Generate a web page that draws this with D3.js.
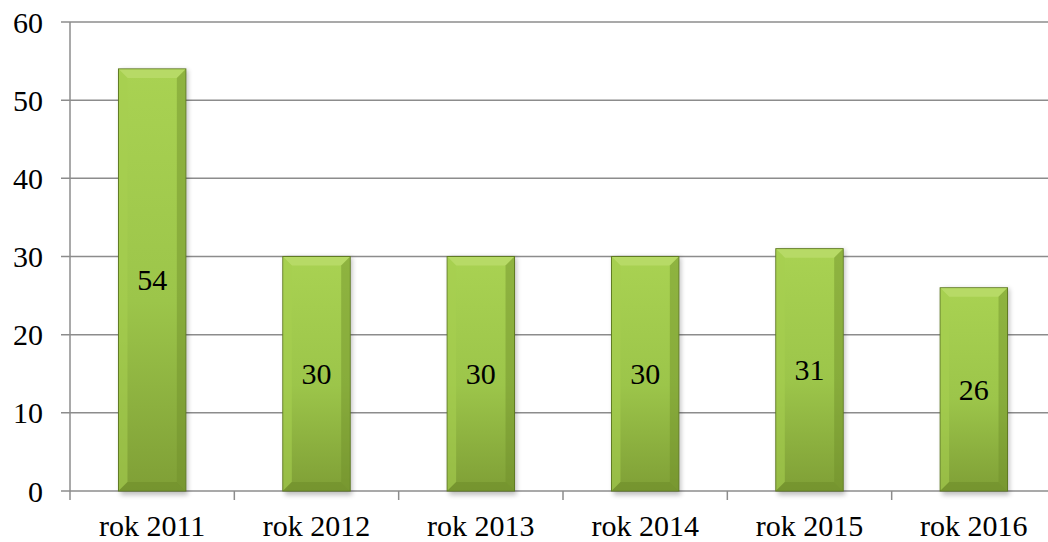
<!DOCTYPE html>
<html>
<head>
<meta charset="utf-8">
<script src="https://cdn.jsdelivr.net/npm/d3@7"></script>
<style>
  html, body { margin: 0; padding: 0; background: #fff; }
  svg { display: block; }
  text { font-family: "Liberation Serif", "Times New Roman", serif; fill: #000; }
</style>
</head>
<body>
<script>
var categories = ["rok 2011", "rok 2012", "rok 2013", "rok 2014", "rok 2015", "rok 2016"];
var values = [54, 30, 30, 30, 31, 26];
var yTicks = [0, 10, 20, 30, 40, 50, 60];

var width = 1048, height = 542;
var plotLeft = 70, plotRight = 1056, plotTop = 22, plotBottom = 491;
var fs = 30;

var svg = d3.select("body").append("svg")
    .attr("width", width)
    .attr("height", height);

var defs = svg.append("defs");

// main face gradient, light at top and darker at the bottom
var g1 = defs.append("linearGradient").attr("id", "face")
    .attr("x1", 0).attr("y1", 0).attr("x2", 0).attr("y2", 1);
g1.append("stop").attr("offset", "0%").attr("stop-color", "#a9d252");
g1.append("stop").attr("offset", "55%").attr("stop-color", "#9cc54a");
g1.append("stop").attr("offset", "100%").attr("stop-color", "#7f9f36");

var blur = defs.append("filter").attr("id", "shadow")
    .attr("x", "-20%").attr("y", "-5%").attr("width", "140%").attr("height", "115%");
blur.append("feGaussianBlur").attr("stdDeviation", 2.5);

var x = d3.scaleBand()
    .domain(categories)
    .range([plotLeft, plotRight])
    .paddingInner(0.59)
    .paddingOuter(0.295);

var y = d3.scaleLinear()
    .domain([0, 60])
    .range([plotBottom, plotTop]);

// gridlines
svg.append("g")
    .selectAll("line")
    .data(yTicks)
    .enter().append("line")
    .attr("x1", plotLeft - 9)
    .attr("x2", width)
    .attr("y1", function (d) { return y(d); })
    .attr("y2", function (d) { return y(d); })
    .attr("stroke", "#8c8c8c")
    .attr("stroke-width", 1.5);

// y axis line
svg.append("line")
    .attr("x1", plotLeft).attr("x2", plotLeft)
    .attr("y1", plotTop).attr("y2", plotBottom)
    .attr("stroke", "#8c8c8c")
    .attr("stroke-width", 1.5);

// y labels
svg.append("g")
    .selectAll("text")
    .data(yTicks)
    .enter().append("text")
    .attr("x", plotLeft - 27)
    .attr("y", function (d) { return y(d); })
    .attr("dy", "0.35em")
    .attr("text-anchor", "end")
    .attr("font-size", fs)
    .text(function (d) { return d; });

// x tick marks at band edges
var edges = categories.map(function (c) { return x(c) - x.step() * x.paddingOuter(); });
edges.push(plotRight);
svg.append("g")
    .selectAll("line")
    .data(edges)
    .enter().append("line")
    .attr("x1", function (d) { return d; })
    .attr("x2", function (d) { return d; })
    .attr("y1", plotBottom)
    .attr("y2", plotBottom + 9)
    .attr("stroke", "#8c8c8c")
    .attr("stroke-width", 1.5);

// x labels
svg.append("g")
    .selectAll("text")
    .data(categories)
    .enter().append("text")
    .attr("x", function (d) { return x(d) + x.bandwidth() / 2; })
    .attr("y", 536)
    .attr("text-anchor", "middle")
    .attr("font-size", fs)
    .text(function (d) { return d; });

var bw = x.bandwidth();
var bev = 9;

var bars = svg.append("g")
    .selectAll("g")
    .data(values)
    .enter().append("g")
    .attr("transform", function (d, i) { return "translate(" + x(categories[i]) + "," + y(d) + ")"; });

// soft shadow
bars.append("rect")
    .attr("x", 2)
    .attr("y", 1)
    .attr("width", bw)
    .attr("height", function (d) { return y(0) - y(d) + 3; })
    .attr("fill", "#000")
    .attr("opacity", 0.25)
    .attr("filter", "url(#shadow)");

bars.append("rect")
    .attr("width", bw)
    .attr("height", function (d) { return y(0) - y(d); })
    .attr("fill", "url(#face)")
    .attr("stroke", "#5f7a22")
    .attr("stroke-width", 1);

// bevel: top facet lighter
bars.append("polygon")
    .attr("points", "0.5,0.5 " + (bw - 0.5) + ",0.5 " + (bw - bev) + "," + bev + " " + bev + "," + bev)
    .attr("fill", "#b7da66");

// left facet
bars.append("polygon")
    .attr("points", function (d) {
        var h = y(0) - y(d);
        return "0.5,0.5 " + bev + "," + bev + " " + bev + "," + (h - bev) + " 0.5," + (h - 0.5);
    })
    .attr("fill", "#a6cf50")
    .attr("opacity", 0.6);

// right facet darker
bars.append("polygon")
    .attr("points", function (d) {
        var h = y(0) - y(d);
        return (bw - 0.5) + ",0.5 " + (bw - bev) + "," + bev + " " + (bw - bev) + "," + (h - bev) + " " + (bw - 0.5) + "," + (h - 0.5);
    })
    .attr("fill", "#6f8f2a")
    .attr("opacity", 0.45);

// bottom facet
bars.append("polygon")
    .attr("points", function (d) {
        var h = y(0) - y(d);
        return "0.5," + (h - 0.5) + " " + bev + "," + (h - bev) + " " + (bw - bev) + "," + (h - bev) + " " + (bw - 0.5) + "," + (h - 0.5);
    })
    .attr("fill", "#6b8a28")
    .attr("opacity", 0.5);

// value labels in the middle of each bar
svg.append("g")
    .selectAll("text")
    .data(values)
    .enter().append("text")
    .attr("x", function (d, i) { return x(categories[i]) + bw / 2; })
    .attr("y", function (d) { return (y(d) + y(0)) / 2; })
    .attr("dy", "0.35em")
    .attr("text-anchor", "middle")
    .attr("font-size", fs)
    .text(function (d) { return d; });
</script>
</body>
</html>
